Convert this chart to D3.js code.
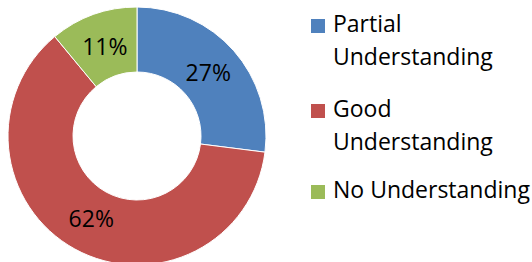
<!DOCTYPE html>
<html>
<head>
<meta charset="utf-8">
<script src="https://cdnjs.cloudflare.com/ajax/libs/d3/7.8.5/d3.min.js"></script>
<style>
  body { margin: 0; background: #fff; }
  text { font-family: "Open Sans", "Noto Sans", sans-serif; fill: #000; }
</style>
</head>
<body>
<div class="playground"></div>
<script>
var categories = ["Partial Understanding", "Good Understanding", "No Understanding"];
var values = [27, 62, 11];
var colors = ["#4F81BD", "#C0504D", "#9BBB59"];
// legend lines, wrapped like the original
var legendLines = [["Partial", "Understanding"], ["Good", "Understanding"], ["No Understanding"]];

var width = 532, height = 262;
var cx = 137, cy = 136, outerR = 129, innerR = 64;

var svg = d3.select('.playground')
  .append('svg')
  .attr('width', width)
  .attr('height', height);

var pie = d3.pie().sort(null).value(function(d){ return d; });
var arc = d3.arc().innerRadius(innerR).outerRadius(outerR);
var arcs = pie(values);

var g = svg.append('g').attr('transform', 'translate(' + cx + ',' + cy + ')');

g.selectAll('path')
  .data(arcs)
  .enter()
  .append('path')
  .attr('d', arc)
  .attr('fill', function(d, i){ return colors[i]; })
  .attr('stroke', '#fff')
  .attr('stroke-width', 1);

// labels in the middle of the ring
var labelArc = d3.arc().innerRadius(95).outerRadius(95);
var total = d3.sum(values);
g.selectAll('text.lbl')
  .data(arcs)
  .enter()
  .append('text')
  .attr('class', 'lbl')
  .attr('transform', function(d){
    var c = labelArc.centroid(d);
    return 'translate(' + c[0] + ',' + c[1] + ')';
  })
  .attr('text-anchor', 'middle')
  .attr('dy', '0.35em')
  .style('font-size', '23px')
  .text(function(d){ return Math.round(d.data / total * 100) + '%'; });

// legend
var legendY = [19, 104, 185];
var leg = svg.selectAll('g.leg')
  .data(categories)
  .enter()
  .append('g')
  .attr('class', 'leg')
  .attr('transform', function(d, i){ return 'translate(311,' + legendY[i] + ')'; });

leg.append('rect')
  .attr('width', 14)
  .attr('height', 14)
  .attr('fill', function(d, i){ return colors[i]; });

leg.each(function(d, i){
  var t = d3.select(this).append('text')
    .attr('x', 22)
    .attr('y', 13)
    .style('font-size', '23px');
  legendLines[i].forEach(function(line, j){
    t.append('tspan').attr('x', 22).attr('dy', j === 0 ? 0 : 33).text(line);
  });
});
</script>
</body>
</html>
